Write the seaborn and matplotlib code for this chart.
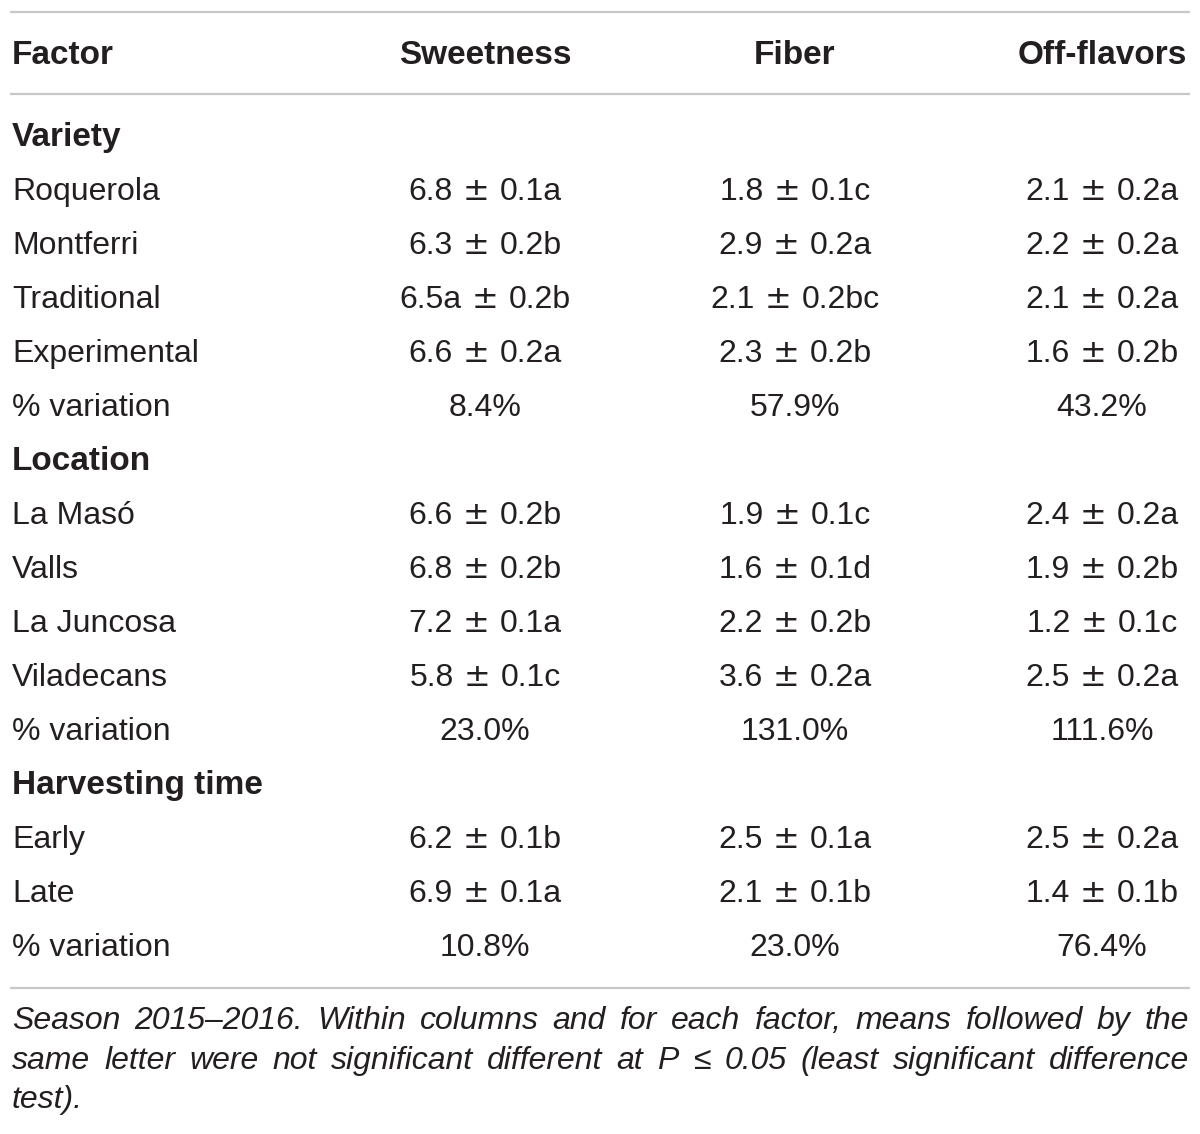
import matplotlib
matplotlib.use("Agg")
import matplotlib.pyplot as plt
from matplotlib import font_manager
import seaborn as sns

# ---------------- data ----------------
columns = ["Factor", "Sweetness", "Fiber", "Off-flavors"]
groups = ["Variety", "Location", "Harvesting time"]
variety_levels = ["Roquerola", "Montferri", "Traditional", "Experimental", "% variation"]
variety_sweet = ["6.8 ± 0.1a", "6.3 ± 0.2b", "6.5a ± 0.2b", "6.6 ± 0.2a", "8.4%"]
variety_fiber = ["1.8 ± 0.1c", "2.9 ± 0.2a", "2.1 ± 0.2bc", "2.3 ± 0.2b", "57.9%"]
variety_off = ["2.1 ± 0.2a", "2.2 ± 0.2a", "2.1 ± 0.2a", "1.6 ± 0.2b", "43.2%"]
location_levels = ["La Masó", "Valls", "La Juncosa", "Viladecans", "% variation"]
location_sweet = ["6.6 ± 0.2b", "6.8 ± 0.2b", "7.2 ± 0.1a", "5.8 ± 0.1c", "23.0%"]
location_fiber = ["1.9 ± 0.1c", "1.6 ± 0.1d", "2.2 ± 0.2b", "3.6 ± 0.2a", "131.0%"]
location_off = ["2.4 ± 0.2a", "1.9 ± 0.2b", "1.2 ± 0.1c", "2.5 ± 0.2a", "111.6%"]
harvest_levels = ["Early", "Late", "% variation"]
harvest_sweet = ["6.2 ± 0.1b", "6.9 ± 0.1a", "10.8%"]
harvest_fiber = ["2.5 ± 0.1a", "2.1 ± 0.1b", "23.0%"]
harvest_off = ["2.5 ± 0.2a", "1.4 ± 0.1b", "76.4%"]
caption_lines = [
    "Season 2015–2016. Within columns and for each factor, means followed by the",
    "same letter were not significant different at P ≤ 0.05 (least significant difference",
    "test).",
]

# ---------------- style ----------------
sns.set_theme(style="white")
names = {f.name for f in font_manager.fontManager.ttflist}
family = "Liberation Sans" if "Liberation Sans" in names else "DejaVu Sans"
plt.rcParams["font.family"] = [family, "DejaVu Sans"]

TXT = "#231f20"
LINE = "#c8c8c8"
FS = 23
BFS = 24
CFS = 23

fig = plt.figure(figsize=(12, 11.34), dpi=100)
ax = fig.add_axes([0, 0, 1, 1])
ax.set_xlim(0, 1200)
ax.set_ylim(1134, 0)
ax.axis("off")
fig.canvas.draw()
renderer = fig.canvas.get_renderer()

col_x = [12, 485, 795, 1102]
row_h = 54
BASE = 11  # center -> baseline offset


def put(x, y, s, ha="center", bold=False, italic=False, size=FS, family=None):
    kw = {}
    if family is not None:
        kw["family"] = family
    return ax.text(x, y + BASE, s, ha=ha, va="baseline", fontsize=size, color=TXT,
                   fontweight="bold" if bold else "normal",
                   fontstyle="italic" if italic else "normal", **kw)


def width(t):
    return t.get_window_extent(renderer).width


def put_value(xc, y, s):
    if " ± " not in s:
        put(xc, y, s)
        return
    a, b = s.split(" ± ")
    ta = put(0, y, a, ha="left")
    tp = put(0, y, "±", ha="left", family=["DejaVu Sans"])
    tb = put(0, y, b, ha="left")
    g = 10
    wa, wp, wb = width(ta), width(tp), width(tb)
    x0 = xc - (wa + g + wp + g + wb) / 2
    ta.set_x(x0)
    tp.set_x(x0 + wa + g)
    tb.set_x(x0 + wa + g + wp + g)


# rules
for y in (12, 94, 988):
    ax.plot([10, 1190], [y, y], color=LINE, lw=1.6, solid_capstyle="butt")

# header
put(col_x[0], 53, columns[0], ha="left", bold=True, size=BFS)
for x, c in zip(col_x[1:], columns[1:]):
    put(x, 53, c, bold=True, size=BFS)

blocks = [
    (groups[0], variety_levels, variety_sweet, variety_fiber, variety_off),
    (groups[1], location_levels, location_sweet, location_fiber, location_off),
    (groups[2], harvest_levels, harvest_sweet, harvest_fiber, harvest_off),
]
y = 135
for g_name, lev, sw, fi, of in blocks:
    put(col_x[0], y, g_name, ha="left", bold=True, size=BFS)
    y += row_h
    for name, a, b, c in zip(lev, sw, fi, of):
        put(col_x[0], y, name, ha="left")
        put_value(col_x[1], y, a)
        put_value(col_x[2], y, b)
        put_value(col_x[3], y, c)
        y += row_h

# caption (justified)
cap_y = [1018, 1058, 1097]
left, right = 12, 1189
for i, (line, cy) in enumerate(zip(caption_lines, cap_y)):
    words = line.split(" ")
    if i == len(caption_lines) - 1 or len(words) == 1:
        put(left, cy, line, ha="left", italic=True, size=CFS)
        continue
    objs = [put(0, cy, w, ha="left", italic=True, size=CFS) for w in words]
    widths = [width(o) for o in objs]
    gap = (right - left - sum(widths)) / (len(words) - 1)
    x = left
    for o, w in zip(objs, widths):
        o.set_x(x)
        x += w + gap

fig.savefig("out.png", dpi=100, facecolor="white")
